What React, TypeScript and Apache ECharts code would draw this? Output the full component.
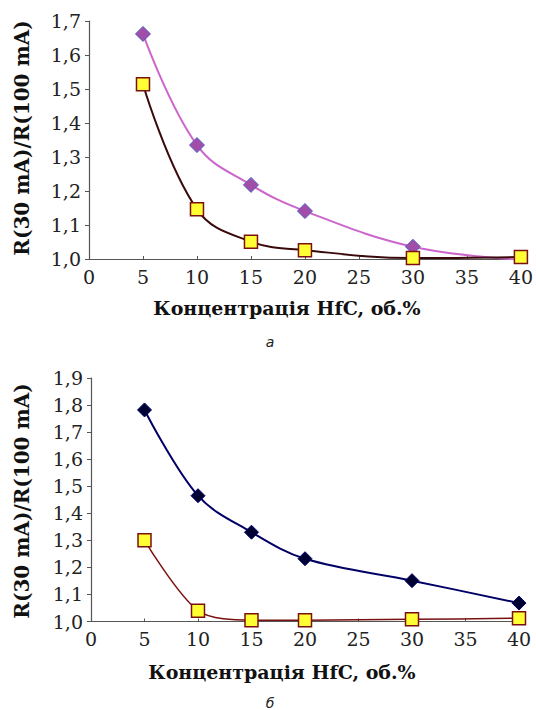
import React, { useEffect, useRef } from "react";
import * as echarts from "echarts";

const xTicks = [0, 5, 10, 15, 20, 25, 30, 35, 40];
const concentrations = [5, 10, 15, 20, 30, 40];

// Panel а
const aDiamond = [1.662, 1.335, 1.218, 1.141, 1.036, 0.998];
const aSquare = [1.514, 1.146, 1.051, 1.026, 1.003, 1.006];
// Panel б
const bDiamond = [1.782, 1.465, 1.33, 1.232, 1.151, 1.068];
const bSquare = [1.3, 1.04, 1.005, 1.005, 1.008, 1.012];

const yTitle = "R(30 mA)/R(100 mA)";
const xTitle = "Концентрація HfC, об.%";
const captions = ["а", "б"];

const pair = (ys: number[]) => concentrations.map((x, i) => [x, ys[i]]);
const fmt = (v: number) => v.toFixed(1).replace(".", ",");

export default function App() {
  const ref = useRef<HTMLDivElement>(null);
  useEffect(() => {
    document.body.style.margin = "0";
    const chart = echarts.init(ref.current!, undefined, { renderer: "svg" });
    const serif = "DejaVu Serif";
    const axisLine = { show: true, lineStyle: { color: "#555", width: 1.2 } };
    const xAxisCommon = {
      type: "value" as const,
      min: 0,
      max: 40,
      interval: 5,
      axisLine,
      axisTick: { show: true, inside: true, length: 3, lineStyle: { color: "#555" } },
      splitLine: { show: false },
      axisLabel: { fontFamily: serif, fontSize: 19, color: "#222", margin: 8 },
    };
    const yAxisCommon = {
      type: "value" as const,
      min: 1,
      interval: 0.1,
      axisLine,
      axisTick: { show: true, length: 4, lineStyle: { color: "#555" } },
      splitLine: { show: false },
      axisLabel: { fontFamily: serif, fontSize: 19, color: "#222", margin: 8, formatter: fmt },
    };
    const yTitleStyle = { fontFamily: serif, fontSize: 20, fontWeight: "bold", fill: "#111" };
    const xTitleStyle = { fontFamily: serif, fontSize: 19, fontWeight: "bold", fill: "#111" };
    chart.setOption({
      animation: false,
      backgroundColor: "#fff",
      grid: [
        { left: 89, top: 21, width: 436, height: 238 },
        { left: 91, top: 378, width: 428, height: 243.5 },
      ],
      xAxis: [
        { ...xAxisCommon, gridIndex: 0 },
        { ...xAxisCommon, gridIndex: 1 },
      ],
      yAxis: [
        { ...yAxisCommon, gridIndex: 0, max: 1.7 },
        { ...yAxisCommon, gridIndex: 1, max: 1.9 },
      ],
      series: [
        {
          type: "line",
          xAxisIndex: 0,
          yAxisIndex: 0,
          data: pair(aDiamond),
          smooth: 0.4,
          symbol: "diamond",
          symbolSize: 15,
          lineStyle: { color: "#cc66cc", width: 2 },
          itemStyle: { color: "#a24ea8", borderColor: "#4a5fc0", borderWidth: 1 },
          z: 2,
        },
        {
          type: "line",
          xAxisIndex: 0,
          yAxisIndex: 0,
          data: pair(aSquare),
          smooth: 0.4,
          symbol: "rect",
          symbolSize: 13,
          lineStyle: { color: "#3a0a0a", width: 2 },
          itemStyle: { color: "#ffff33", borderColor: "#7a1010", borderWidth: 1.5 },
          z: 3,
        },
        {
          type: "line",
          xAxisIndex: 1,
          yAxisIndex: 1,
          data: pair(bDiamond),
          smooth: 0.35,
          symbol: "diamond",
          symbolSize: 14,
          lineStyle: { color: "#000066", width: 2 },
          itemStyle: { color: "#000033", borderColor: "#000066", borderWidth: 1 },
          z: 2,
        },
        {
          type: "line",
          xAxisIndex: 1,
          yAxisIndex: 1,
          data: pair(bSquare),
          smooth: 0.3,
          symbol: "rect",
          symbolSize: 13,
          lineStyle: { color: "#7a1010", width: 1.5 },
          itemStyle: { color: "#ffff33", borderColor: "#7a1010", borderWidth: 1.5 },
          z: 3,
        },
      ],
      graphic: [
        {
          type: "text",
          x: 22,
          y: 138,
          rotation: Math.PI / 2,
          style: { ...yTitleStyle, text: yTitle, align: "center", verticalAlign: "middle" },
        },
        {
          type: "text",
          x: 22,
          y: 501,
          rotation: Math.PI / 2,
          style: { ...yTitleStyle, text: yTitle, align: "center", verticalAlign: "middle" },
        },
        {
          type: "text",
          x: 287,
          y: 308,
          style: { ...xTitleStyle, text: xTitle, align: "center", verticalAlign: "middle" },
        },
        {
          type: "text",
          x: 282,
          y: 672,
          style: { ...xTitleStyle, text: xTitle, align: "center", verticalAlign: "middle" },
        },
        {
          type: "text",
          x: 270,
          y: 342,
          style: { text: captions[0], fontFamily: "DejaVu Sans", fontStyle: "italic", fontSize: 14, fill: "#222", align: "center", verticalAlign: "middle" },
        },
        {
          type: "text",
          x: 270,
          y: 703,
          style: { text: captions[1], fontFamily: "DejaVu Sans", fontStyle: "italic", fontSize: 14, fill: "#222", align: "center", verticalAlign: "middle" },
        },
      ],
    });
    return () => chart.dispose();
  }, []);
  return <div ref={ref} style={{ width: 536, height: 710 }} />;
}
